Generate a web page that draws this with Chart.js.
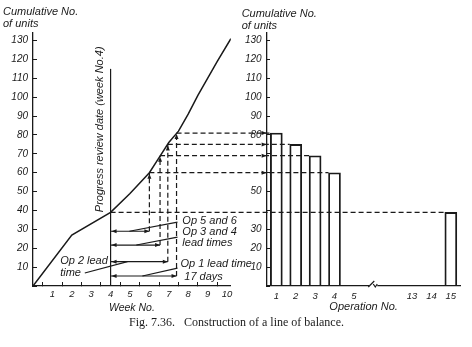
<!DOCTYPE html>
<html>
<head>
<meta charset="utf-8">
<script src="https://cdn.jsdelivr.net/npm/chart.js@4.4.1/dist/chart.umd.min.js"></script>
<style>
  html, body { margin: 0; padding: 0; background: #fff; }
  canvas { display: block; }
</style>
</head>
<body>
<canvas id="lob" width="472" height="347"></canvas>
<script>
// Planned cumulative output, by week
const weeks = [0, 2, 4, 5, 6, 6.5, 7, 7.5, 8, 8.5, 9, 9.5, 10.2];
const cumUnits = [0, 27, 39, 49, 60, 68, 76, 82, 91, 101, 110, 119, 131];

// Units through each operation at the review date
const opLabels = ['1', '2', '3', '4', '5', '', '', '13', '14', '15'];
const opUnits = [81, 75, 69, 60, null, null, null, null, null, 39];

// Tick labels printed on the right-hand axis
const rightTickLabels = [10, 20, 30, 50, 80, 90, 100, 110, 120, 130];

const reviewWeek = 4;
const reviewUnits = 39;
const reviewLineTop = 115;
const leadEnds = [6.0, 6.55, 6.95, 7.4];   // Op 5&6, Op 3&4, Op 2, Op 1
const leadOps = [3, 2, 1, 0];              // bar each lead time feeds

const ink = '#1a1a1a';
const hand = 'Liberation Sans';
const tickFont = { family: hand, style: 'italic', size: 10 };

function dashed(ctx, x1, y1, x2, y2) {
  ctx.save();
  ctx.setLineDash([5, 3]);
  ctx.beginPath();
  ctx.moveTo(x1, y1);
  ctx.lineTo(x2, y2);
  ctx.stroke();
  ctx.restore();
}

function solid(ctx, x1, y1, x2, y2) {
  ctx.beginPath();
  ctx.moveTo(x1, y1);
  ctx.lineTo(x2, y2);
  ctx.stroke();
}

// filled arrow head, tip at (x, y), pointing along angle a
function head(ctx, x, y, a) {
  ctx.save();
  ctx.translate(x, y);
  ctx.rotate(a);
  ctx.beginPath();
  ctx.moveTo(0, 0);
  ctx.lineTo(-5, -2);
  ctx.lineTo(-5, 2);
  ctx.closePath();
  ctx.fill();
  ctx.restore();
}

// annotation layout, in week / unit coordinates
const arrowRows = [29, 21.7, 12.9, 5.3];
const notes = [
  ['Op 5 and 6', 7.7, 34.5],
  ['Op 3 and 4', 7.7, 28.5],
  ['lead times', 7.7, 22.7],
  ['Op 2 lead', 1.4, 13.4],
  ['time', 1.4, 6.9],
  ['Op 1 lead time', 7.6, 11.6],
  ['17 days', 7.8, 4.8]
];
const leaders = [
  [7.45, 33.8, 4.97, 29],
  [7.45, 25.9, 5.33, 21.7],
  [2.67, 6.9, 4.87, 12.9],
  [7.45, 9.5, 5.64, 5.3]
];

const balancePlugin = {
  id: 'balance',
  afterDatasetsDraw(chart) {
    const { ctx, scales: { x, y, x2, y2 } } = chart;
    const bars = chart.getDatasetMeta(1).data;
    const px = v => x.getPixelForValue(v);
    const py = v => y.getPixelForValue(v);
    const rx = reviewWeek;

    ctx.save();
    ctx.strokeStyle = ink;
    ctx.fillStyle = ink;
    ctx.lineWidth = 1.2;

    // progress review date
    solid(ctx, px(rx), py(0), px(rx), py(reviewLineTop));

    // review level carried across to the last operation
    const last = bars[9];
    dashed(ctx, px(rx), py(reviewUnits), last.x - last.width / 2, py(reviewUnits));

    leadEnds.forEach((end, k) => {
      const rowY = py(arrowRows[k]);
      const xe = px(end);
      const op = leadOps[k];
      const bar = bars[op];
      const lvl = py(opUnits[op]);

      solid(ctx, px(rx), rowY, xe, rowY);
      head(ctx, px(rx) + 1, rowY, Math.PI);
      head(ctx, xe, rowY, 0);

      dashed(ctx, xe, rowY, xe, lvl);
      head(ctx, xe, lvl + 1, -Math.PI / 2);

      dashed(ctx, xe, lvl, bar.x - bar.width / 2, lvl);
      head(ctx, x2.left, lvl, 0);
    });

    leaders.forEach(([a, b, c, d]) => solid(ctx, px(a), py(b), px(c), py(d)));

    ctx.font = 'italic 11px "' + hand + '"';
    ctx.textBaseline = 'middle';
    ctx.textAlign = 'left';
    notes.forEach(([t, w, u]) => ctx.fillText(t, px(w), py(u)));

    // rotated label beside the review line
    ctx.save();
    ctx.translate(px(3.44), py(83));
    ctx.rotate(-Math.PI / 2);
    ctx.textAlign = 'center';
    ctx.fillText('Progress review date (week No.4)', 0, 0);
    ctx.restore();

    // axis headings
    ctx.fillText('Cumulative No.', 3, 12);
    ctx.fillText('of units', 3, 24);
    ctx.fillText('Cumulative No.', x2.left - 25, 14);
    ctx.fillText('of units', x2.left - 25, 26);

    // right-hand axis labels
    ctx.font = 'italic 10px "' + hand + '"';
    ctx.textAlign = 'right';
    rightTickLabels.forEach(v => ctx.fillText(String(v), x2.left - 5, y2.getPixelForValue(v)));

    // break in the operation axis
    const bx = x2.getPixelForValue(5);
    const by = x2.top;
    ctx.fillStyle = '#fff';
    ctx.fillRect(bx - 4, by - 2, 8, 4);
    solid(ctx, bx - 5, by + 1, bx + 1, by - 5);
    ctx.beginPath();
    ctx.moveTo(bx, by - 2);
    ctx.lineTo(bx + 2, by + 1);
    ctx.lineTo(bx + 4, by - 2);
    ctx.stroke();

    ctx.restore();
  }
};

const fixHeight = s => { s.height = 28; };

new Chart(document.getElementById('lob'), {
  type: 'bar',
  data: {
    datasets: [
      {
        type: 'line',
        data: weeks.map((w, i) => ({ x: w, y: cumUnits[i] })),
        xAxisID: 'x',
        yAxisID: 'y',
        borderColor: ink,
        borderWidth: 1.5,
        pointRadius: 0,
        tension: 0,
        fill: false
      },
      {
        type: 'bar',
        data: opUnits,
        xAxisID: 'x2',
        yAxisID: 'y',
        grouped: false,
        barThickness: 12,
        backgroundColor: 'rgba(255,255,255,0)',
        borderColor: ink,
        borderWidth: 1.2,
        borderSkipped: 'bottom'
      }
    ]
  },
  options: {
    responsive: false,
    animation: false,
    layout: { padding: { top: 33, right: 9, left: 10, bottom: 0 } },
    plugins: {
      legend: { display: false },
      tooltip: { enabled: false },
      title: {
        display: true,
        position: 'bottom',
        text: 'Fig. 7.36.   Construction of a line of balance.',
        color: ink,
        font: { family: 'Liberation Serif', size: 12, weight: 'normal' },
        padding: { top: 2, bottom: 16.6 }
      }
    },
    scales: {
      x: {
        type: 'linear',
        position: 'bottom',
        stack: 'base',
        stackWeight: 199,
        offset: false,
        min: 0,
        max: 10.2,
        afterFit: fixHeight,
        ticks: {
          stepSize: 1,
          includeBounds: false,
          autoSkip: false,
          maxRotation: 0,
          padding: 7,
          color: ink,
          font: { ...tickFont, size: 9.5 },
          callback: v => (v === 0 ? '' : v)
        },
        grid: { display: true, drawOnChartArea: false, drawTicks: true, tickLength: -4, color: ink, lineWidth: 1 },
        border: { display: true, color: ink, width: 1.3 },
        title: { display: true, text: 'Week No.', color: ink, font: { ...tickFont, size: 10.5 }, padding: 0 }
      },
      gap: {
        type: 'linear',
        axis: 'x',
        position: 'bottom',
        stack: 'base',
        stackWeight: 36,
        offset: false,
        min: 0,
        max: 1,
        display: false,
        afterFit: fixHeight
      },
      x2: {
        type: 'category',
        labels: opLabels,
        position: 'bottom',
        stack: 'base',
        stackWeight: 195,
        offset: true,
        afterFit: fixHeight,
        ticks: { autoSkip: false, maxRotation: 0, padding: 5, color: ink, font: { ...tickFont, size: 9.5 } },
        grid: { display: false, drawTicks: false },
        border: { display: true, color: ink, width: 1.3 },
        title: { display: true, text: 'Operation No.', color: ink, font: { ...tickFont, size: 11 }, padding: 0 }
      },
      y: {
        type: 'linear',
        position: 'left',
        min: 0,
        max: 134,
        afterFit: s => { s.width = 23; },
        ticks: {
          stepSize: 10,
          includeBounds: false,
          padding: 9,
          color: ink,
          font: tickFont,
          callback: v => (v === 0 ? '' : v)
        },
        grid: { display: true, drawOnChartArea: false, drawTicks: true, tickLength: -4, color: ink, lineWidth: 1 },
        border: { display: true, color: ink, width: 1.3 }
      },
      y2: {
        type: 'linear',
        axis: 'y',
        position: { x2: -0.5 },
        min: 0,
        max: 134,
        ticks: { stepSize: 10, includeBounds: false, display: false },
        grid: { display: true, drawOnChartArea: false, drawTicks: true, tickLength: -4, color: ink, lineWidth: 1 },
        border: { display: true, color: ink, width: 1.3 }
      }
    }
  },
  plugins: [balancePlugin]
});
</script>
</body>
</html>
